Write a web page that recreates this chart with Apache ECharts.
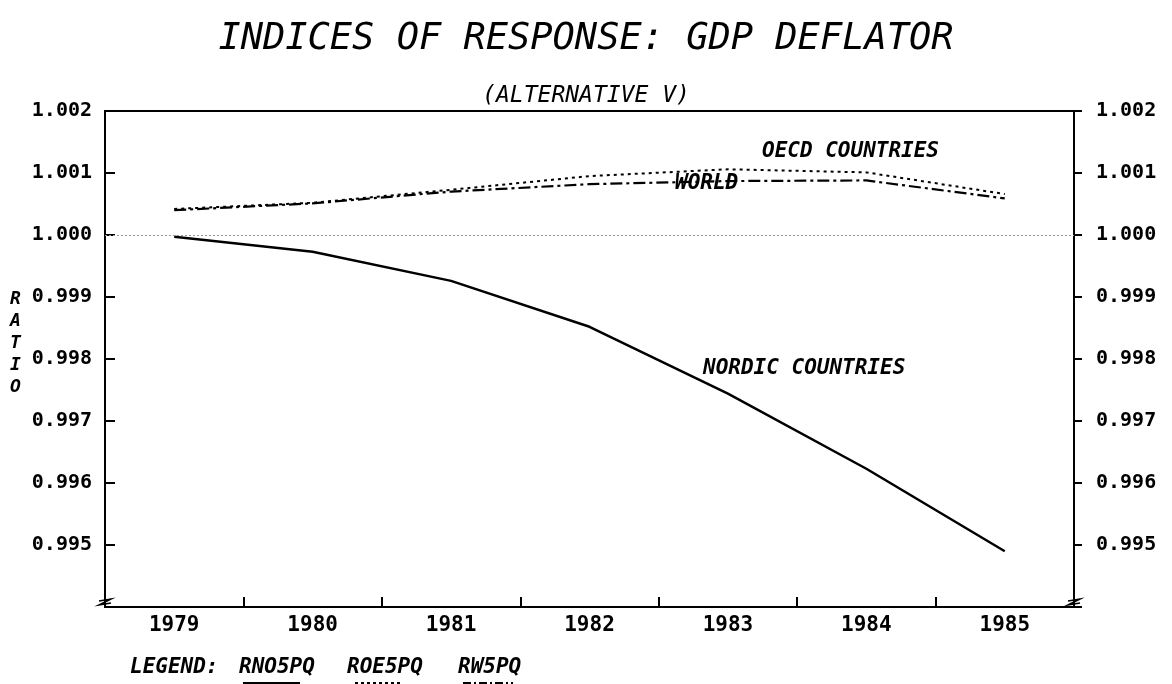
<!DOCTYPE html>
<html><head><meta charset="utf-8">
<script src="https://cdn.jsdelivr.net/npm/echarts@6/dist/echarts.min.js"></script>
<style>html,body{margin:0;padding:0;background:#fff}#c{width:1172px;height:684px}</style>
</head><body><div id="c"></div>
<script>
const years = ['1979', '1980', '1981', '1982', '1983', '1984', '1985'];
const nordic = [0.99997, 0.99973, 0.99926, 0.99852, 0.99744, 0.99623, 0.99490];
const oecd   = [1.00042, 1.00052, 1.00073, 1.00095, 1.00106, 1.00101, 1.00066];
const world  = [1.00040, 1.00051, 1.00070, 1.00082, 1.00087, 1.00088, 1.00059];
const yMin = 0.994, yMax = 1.002, yStep = 0.001;
const referenceLevel = 1.000;
const seriesLabels = ['NORDIC COUNTRIES', 'OECD COUNTRIES', 'WORLD'];
const legendCodes = ['RNO5PQ', 'ROE5PQ', 'RW5PQ'];

const F = 'DejaVu Sans Mono';
const chart = echarts.init(document.getElementById('c'), null, {renderer: 'canvas'});
const fmt = v => (v < yMin + yStep / 2) ? '' : v.toFixed(3);
const yCommon = {
  type: 'value', min: yMin, max: yMax, interval: yStep,
  splitLine: {show: false},
  axisLine: {show: true, lineStyle: {color: '#000', width: 2}},
  axisLabel: {show: true, formatter: fmt, color: '#000', fontFamily: F, fontSize: 20, fontWeight: 'bold'}
};
const txt = (text, left, top, size, extra) => Object.assign({
  type: 'text', left: left, top: top,
  style: {text: text, fill: '#000', font: 'italic bold ' + size + 'px "' + F + '"'}
}, extra || {});
const uline = (x1, x2, dash) => ({
  type: 'line', shape: {x1: x1, y1: 683, x2: x2, y2: 683},
  style: {stroke: '#000', lineWidth: 2, lineDash: dash}
});
const brk = (x) => ({
  type: 'polyline', silent: true,
  shape: {points: [[x - 6, 601], [x + 6, 599], [x - 6, 605], [x + 6, 603]]},
  style: {stroke: '#000', lineWidth: 1.5, fill: null}
});

chart.setOption({
  animation: false,
  backgroundColor: '#fff',
  title: [
    {text: 'INDICES OF RESPONSE: GDP DEFLATOR', left: 'center', top: 16,
     textStyle: {fontFamily: F, fontStyle: 'italic', fontWeight: 'normal', fontSize: 37, color: '#000'}},
    {text: '(ALTERNATIVE V)', left: 'center', top: 80,
     textStyle: {fontFamily: F, fontStyle: 'italic', fontWeight: 'normal', fontSize: 23, color: '#000'}}
  ],
  grid: {left: 105, right: 98, top: 111, bottom: 77, show: true, borderColor: '#000', borderWidth: 2},
  xAxis: {
    type: 'category', data: years, boundaryGap: true,
    axisLine: {show: true, lineStyle: {color: '#000', width: 2}},
    axisTick: {show: true, inside: true, length: 10, alignWithLabel: false, lineStyle: {color: '#000', width: 2}},
    axisLabel: {show: true, color: '#000', fontFamily: F, fontSize: 21, fontWeight: 'bold', margin: 8}
  },
  yAxis: [
    Object.assign({}, yCommon, {position: 'left',
      axisTick: {show: true, inside: true, length: 10, lineStyle: {color: '#000', width: 2}},
      axisLabel: Object.assign({}, yCommon.axisLabel, {margin: 13})}),
    Object.assign({}, yCommon, {position: 'right',
      axisTick: {show: true, inside: false, length: 8, lineStyle: {color: '#000', width: 2}},
      axisLabel: Object.assign({}, yCommon.axisLabel, {margin: 22})})
  ],
  series: [
    {name: seriesLabels[0], type: 'line', data: nordic, symbol: 'none', yAxisIndex: 0,
     lineStyle: {color: '#000', width: 2.5, type: 'solid'},
     markLine: {silent: true, symbol: 'none', label: {show: false},
       lineStyle: {color: '#999', width: 1, type: [2, 2]}, data: [{yAxis: referenceLevel}]}},
    {name: seriesLabels[1], type: 'line', data: oecd, symbol: 'none', yAxisIndex: 0,
     lineStyle: {color: '#000', width: 2, type: [3, 4]}},
    {name: seriesLabels[2], type: 'line', data: world, symbol: 'none', yAxisIndex: 0,
     lineStyle: {color: '#000', width: 2.2, type: [12, 4, 3, 4]}}
  ],
  graphic: [
    txt(seriesLabels[1], 762, 141, 21),
    txt(seriesLabels[2], 675, 173, 21),
    txt(seriesLabels[0], 703, 358, 21),
    txt('R\nA\nT\nI\nO', 10, 288, 18, {style: {text: 'R\nA\nT\nI\nO', fill: '#000', font: 'italic bold 18px "' + F + '"', lineHeight: 22}}),
    txt('LEGEND:', 130, 657, 21),
    txt(legendCodes[0], 239, 657, 21),
    txt(legendCodes[1], 347, 657, 21),
    txt(legendCodes[2], 458, 657, 21),
    uline(243, 300, null),
    uline(355, 402, [3, 3]),
    uline(463, 513, [8, 3, 2, 3]),
    brk(105),
    brk(1074)
  ]
});
</script>
</body></html>
